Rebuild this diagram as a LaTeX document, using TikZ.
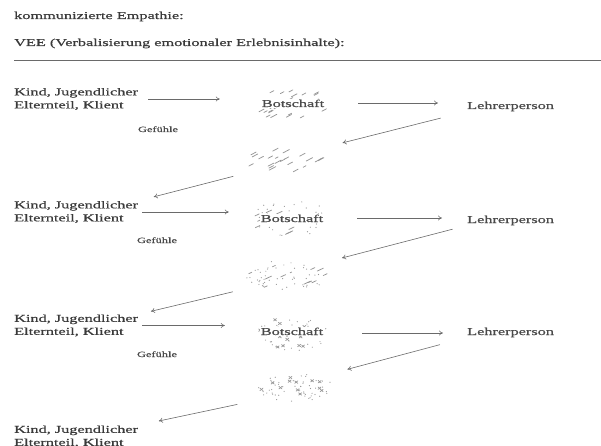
\documentclass[tikz,border=0pt]{standalone}
\usepackage{fontspec}
\setmainfont[FakeStretch=1.55,FakeBold=0.7]{Liberation Serif}
\usetikzlibrary{arrows.meta,shapes.geometric,calc}
\definecolor{txt}{HTML}{3A3A3A}
\definecolor{txtb}{HTML}{4A4A4A}
\definecolor{arrc}{HTML}{6A6A6A}
\definecolor{cloudc}{HTML}{969696}
\tikzset{
  lbl/.style={inner sep=0pt,text=txt,font=\fontsize{10.5}{13}\selectfont},
  kid/.style={lbl,align=left,anchor=west},
  msg/.style={inner sep=1pt,text=txtb,fill=white,anchor=base,font=\fontsize{10.5}{13}\selectfont},
  teach/.style={inner sep=0pt,text=txtb,anchor=base west,font=\fontsize{10.5}{13}\selectfont},
  feel/.style={inner sep=0pt,text=txtb,anchor=base,font=\fontsize{8}{10}\selectfont},
  cloudarea/.style={ellipse,inner sep=0pt,draw=none},
  arr/.style={draw=arrc,line width=0.6pt,-{To[length=4pt,width=5pt]}},
  cloudstroke/.style={draw=cloudc,line width=0.75pt,line cap=round},
}
% cx cy rx ry seed count angle
\newcommand\dashcloud[7]{%
  \pgfmathsetseed{#5}%
  \foreach \i in {1,...,#6}{%
    \pgfmathsetmacro\ang{360*rnd}%
    \pgfmathsetmacro\rad{sqrt(rnd)}%
    \pgfmathsetmacro\hl{1.5+2.2*rnd}%
    \pgfmathsetmacro\px{#1+#3*\rad*cos(\ang)}%
    \pgfmathsetmacro\py{#2+#4*\rad*sin(\ang)}%
    \draw[cloudstroke] ([shift={(#7+180:\hl)}]\px,\py) -- ([shift={(#7:\hl)}]\px,\py);
  }}
\newcommand\dotcloud[6]{%
  \pgfmathsetseed{#5}%
  \foreach \i in {1,...,#6}{%
    \pgfmathsetmacro\ang{360*rnd}%
    \pgfmathsetmacro\rad{sqrt(rnd)}%
    \pgfmathsetmacro\px{#1+#3*\rad*cos(\ang)}%
    \pgfmathsetmacro\py{#2+#4*\rad*sin(\ang)}%
    \fill[cloudc] (\px,\py) circle (0.6);
  }}
\newcommand\crosscloud[6]{%
  \pgfmathsetseed{#5}%
  \foreach \i in {1,...,#6}{%
    \pgfmathsetmacro\ang{360*rnd}%
    \pgfmathsetmacro\rad{sqrt(rnd)}%
    \pgfmathsetmacro\px{#1+#3*\rad*cos(\ang)}%
    \pgfmathsetmacro\py{#2+#4*\rad*sin(\ang)}%
    \draw[cloudstroke,line width=0.7pt] (\px-1.5,\py-1.2) -- (\px+1.5,\py+1.2);
    \draw[cloudstroke,line width=0.7pt] (\px-1.5,\py+1.2) -- (\px+1.5,\py-1.2);
  }}
\begin{document}
\begin{tikzpicture}[x=1pt,y=1pt]
\useasboundingbox (0,0) rectangle (601,-446);

% header
\node[lbl,anchor=base west] (title) at (14,-19) {kommunizierte Empathie:};
\node[lbl,anchor=base west] (vee) at (14,-46) {VEE (Verbalisierung emotionaler Erlebnisinhalte):};
\draw[draw=arrc,line width=0.6pt] (14,-60) -- (601,-60);

% cloud areas
\node[cloudarea,minimum width=94pt,minimum height=34pt] (c1a) at (292,-103) {};
\node[cloudarea,minimum width=80pt,minimum height=28pt] (c1b) at (286,-160) {};
\node[cloudarea,minimum width=84pt,minimum height=36pt] (c2a) at (290,-218) {};
\node[cloudarea,minimum width=84pt,minimum height=30pt] (c2b) at (288,-275) {};
\node[cloudarea,minimum width=74pt,minimum height=36pt] (c3a) at (291,-333) {};
\node[cloudarea,minimum width=74pt,minimum height=30pt] (c3b) at (295,-387) {};

% cloud fillings
\dashcloud{292}{-103}{45}{16}{11}{26}{28}
\dashcloud{286}{-160}{38}{13}{23}{22}{28}
\dashcloud{290}{-218}{40}{16}{37}{12}{25}
\dotcloud{290}{-218}{42}{18}{41}{40}
\dashcloud{288}{-275}{40}{14}{53}{11}{25}
\dotcloud{288}{-275}{42}{15}{57}{50}
\crosscloud{291}{-333}{36}{17}{61}{14}
\dotcloud{291}{-333}{37}{18}{67}{34}
\crosscloud{295}{-387}{35}{14}{71}{12}
\dotcloud{295}{-387}{37}{15}{73}{55}

% row 1
\node[kid] (k1) at (14,-99) {Kind, Jugendlicher\\Elternteil, Klient};
\node[msg] (t1) at (293,-107) {Botschaft};
\node[teach] (L1) at (467,-109) {Lehrerperson};
\node[feel] (g1) at (158,-132) {Gefühle};

% row 2
\node[kid] (k2) at (14,-212) {Kind, Jugendlicher\\Elternteil, Klient};
\node[msg] (t2) at (292,-222) {Botschaft};
\node[teach] (L2) at (467,-223) {Lehrerperson};
\node[feel] (g2) at (157,-243) {Gefühle};

% row 3
\node[kid] (k3) at (14,-325.5) {Kind, Jugendlicher\\Elternteil, Klient};
\node[msg] (t3) at (292,-335) {Botschaft};
\node[teach] (L3) at (467,-335) {Lehrerperson};
\node[feel] (g3) at (157,-357) {Gefühle};

% row 4
\node[kid] (k4) at (14,-436.5) {Kind, Jugendlicher\\Elternteil, Klient};

% arrows row 1
\draw[arr,shorten <=10pt,shorten >=25pt] (k1.east) -- (k1.east -| c1a.west);
\draw[arr,shorten <=19pt,shorten >=29pt] (c1a.east) -- (c1a.east -| L1.west);
\draw[arr,shorten <=27pt,shorten >=29pt] (L1.south west) -- (c1b.north east);
\draw[arr,shorten <=25pt,shorten >=16pt] (c1b.south west) -- (k2.north east);

% arrows row 2
\draw[arr,shorten <=4pt,shorten >=19pt] (k2.east) -- (k2.east -| c2a.west);
\draw[arr,shorten <=25pt,shorten >=25pt] (c2a.east) -- (c2a.east -| L2.west);
\draw[arr,shorten <=15pt,shorten >=25pt] (L2.south west) -- (c2b.north east);
\draw[arr,shorten <=26pt,shorten >=13pt] (c2b.south west) -- (k3.north east);

% arrows row 3
\draw[arr,shorten <=4pt,shorten >=29pt] (k3.east) -- (k3.east -| c3a.west);
\draw[arr,shorten <=34pt,shorten >=24pt] (c3a.east) -- (c3a.east -| L3.west);
\draw[arr,shorten <=28pt,shorten >=27pt] (L3.south west) -- (c3b.north east);
\draw[arr,shorten <=32pt,shorten >=21pt] (c3b.south west) -- (k4.north east);
\end{tikzpicture}
\end{document}
